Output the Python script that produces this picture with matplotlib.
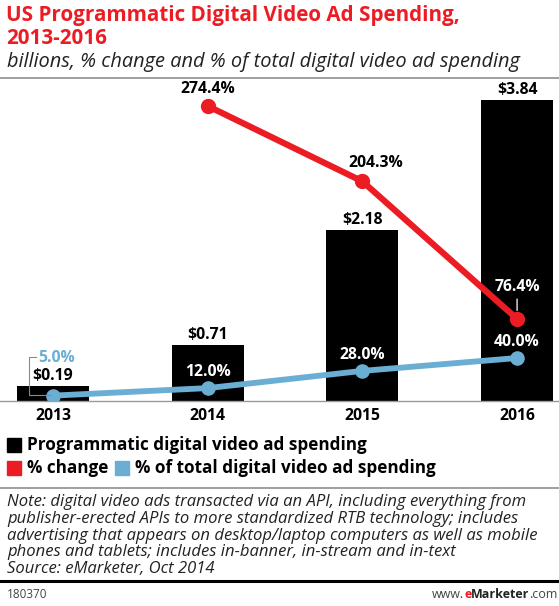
import matplotlib
matplotlib.use("Agg")
import matplotlib.pyplot as plt
from matplotlib.patches import Rectangle
from matplotlib.lines import Line2D

plt.rcParams['font.family'] = ['Open Sans', 'DejaVu Sans']

# data
years = ['2013', '2014', '2015', '2016']
spend = [0.19, 0.71, 2.18, 3.84]          # billions
pct_change = [None, 274.4, 204.3, 76.4]   # % change
pct_total = [5.0, 12.0, 28.0, 40.0]       # % of total digital video ad spending

RED = '#ec1c24'
BLUE = '#6aaed3'
W, H = 559, 606

fig = plt.figure(figsize=(W / 100, H / 100), dpi=100)

def fx(x):
    return x / W

def fy(y):
    return 1 - y / H

# main plot area, pixel 80..401 vertically
ax = fig.add_axes([0, fy(401), 1, fy(80) - fy(401)])
x = list(range(len(years)))
ax.bar(x, spend, width=0.465, color='black', zorder=2)
ax.set_xlim(-0.343, 3.271)
ax.set_ylim(0, 4.094)
for s in ['top', 'left', 'right']:
    ax.spines[s].set_visible(False)
ax.spines['bottom'].set_color('#9a9a9a')
ax.spines['bottom'].set_linewidth(1)
ax.set_yticks([])
ax.set_xticks(x)
ax.set_xticklabels(years, fontsize=11.3, fontweight='bold')
ax.tick_params(axis='x', length=0, pad=5)

LBL = 11.3
for i, v in enumerate(spend):
    ax.annotate('$%.2f' % v, (i, v), xytext=(0, 2), textcoords='offset pixels',
                ha='center', va='bottom', fontsize=LBL, fontweight='bold')

# percentage lines on a second scale
ax2 = ax.twinx()
ax2.set_ylim(0, 298.6)
ax2.set_yticks([])
for s in ax2.spines.values():
    s.set_visible(False)

ax2.plot(x[1:], pct_change[1:], color=RED, lw=4.5, marker='o', ms=10,
         solid_capstyle='round', zorder=3)
ax2.plot(x, pct_total, color=BLUE, lw=4.2, marker='o', ms=9.5,
         solid_capstyle='round', zorder=3)

# % change labels
ax2.annotate('274.4%', (1, pct_change[1]), xytext=(0, 9), textcoords='offset pixels',
             ha='center', va='bottom', fontsize=LBL, fontweight='bold')
ax2.annotate('204.3%', (2, pct_change[2]), xytext=(13, 10), textcoords='offset pixels',
             ha='center', va='bottom', fontsize=LBL, fontweight='bold')
ax2.annotate('76.4%', (3, pct_change[3]), xytext=(0, 24), textcoords='offset pixels',
             ha='center', va='bottom', fontsize=LBL, fontweight='bold', color='white',
             arrowprops=dict(arrowstyle='-', color='white', lw=0.9,
                             shrinkA=1, shrinkB=6))

# % of total labels
for i in [1, 2, 3]:
    ax2.annotate('%.1f%%' % pct_total[i], (i, pct_total[i]), xytext=(0, 8),
                 textcoords='offset pixels', ha='center', va='bottom',
                 fontsize=LBL, fontweight='bold', color='white')
ax2.annotate('5.0%', (0, pct_total[0]), xytext=(-15, 38), textcoords='offset pixels',
             ha='left', va='center', fontsize=LBL, fontweight='bold', color=BLUE)
# bracket leader for the 2013 share label
bx = fx(29)
y0 = fy(395)
y1 = fy(357)
fig.add_artist(Line2D([fx(50), bx, bx, fx(36)], [y0, y0, y1, y1],
                      color='#8a8a8a', lw=0.8, zorder=1))

# titles
fig.text(fx(6), fy(16), 'US Programmatic Digital Video Ad Spending,',
         color=RED, fontsize=14.9, fontweight='bold', va='center')
fig.text(fx(6), fy(39), '2013-2016', color=RED, fontsize=14.9,
         fontweight='bold', va='center')
fig.text(fx(7), fy(62), 'billions, % change and % of total digital video ad spending',
         fontsize=14.4, style='italic', color='#222222', va='center')
fig.add_artist(Line2D([0, 1], [fy(78), fy(78)], color='#8f8f8f', lw=1.2))

# legend
LEG = 12.3
fig.add_artist(Rectangle((fx(7), fy(452)), fx(14), 14 / H, color='black'))
fig.text(fx(27), fy(445), 'Programmatic digital video ad spending',
         fontsize=LEG, fontweight='bold', va='center')
fig.add_artist(Rectangle((fx(7), fy(475)), fx(14), 14 / H, color=RED))
fig.text(fx(27), fy(468), '% change', fontsize=LEG, fontweight='bold', va='center')
fig.add_artist(Rectangle((fx(115), fy(475)), fx(14), 14 / H, color=BLUE))
fig.text(fx(135), fy(468), '% of total digital video ad spending',
         fontsize=LEG, fontweight='bold', va='center')

# notes
fig.add_artist(Line2D([0, 1], [fy(488), fy(488)], color='#8f8f8f', lw=1.2))
notes = ['Note: digital video ads transacted via an API, including everything from',
         'publisher-erected APIs to more standardized RTB technology; includes',
         'advertising that appears on desktop/laptop computers as well as mobile',
         'phones and tablets; includes in-banner, in-stream and in-text',
         'Source: eMarketer, Oct 2014']
for k, line in enumerate(notes):
    fig.text(fx(7), fy(502 + 16.8 * k), line, fontsize=12.0, style='italic',
             color='#222222', va='center')
fig.add_artist(Line2D([0, 1], [fy(581), fy(581)], color='black', lw=2.2))
fig.text(fx(7), fy(594), '180370', fontsize=8.5, color='#444444', va='center')

# footer url, pieces laid out right to left
renderer = fig.canvas.get_renderer()
right = 558
for piece, col, wt in [('.com', '#444444', 'normal'), ('Marketer', '#222222', 'bold'),
                       ('e', RED, 'bold'), ('www.', '#444444', 'normal')]:
    t = fig.text(fx(right), fy(594), piece, fontsize=9, color=col, fontweight=wt,
                 va='center', ha='right')
    right -= t.get_window_extent(renderer).width

fig.savefig('out.png', dpi=100)
